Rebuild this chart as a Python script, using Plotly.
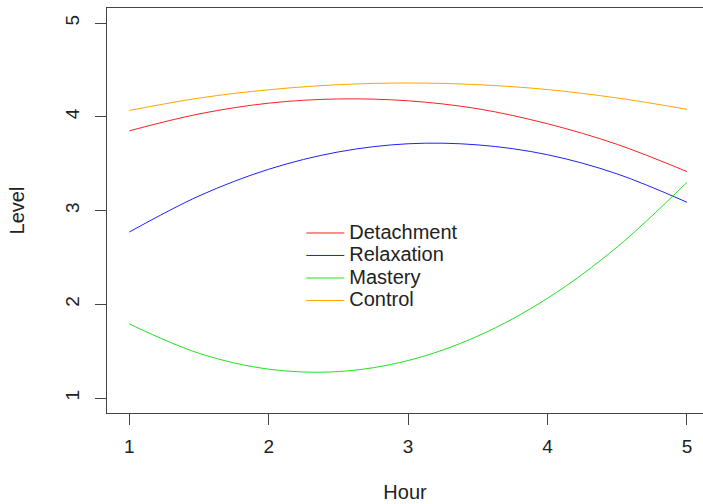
import plotly.graph_objects as go

hours = [1, 1.5, 2, 2.5, 3, 3.5, 4, 4.5, 5]
detachment = [3.85, 4.03, 4.145, 4.19, 4.17, 4.085, 3.925, 3.705, 3.415]
relaxation = [2.77, 3.155, 3.44, 3.625, 3.712, 3.70, 3.595, 3.39, 3.088]
mastery = [1.79, 1.477, 1.308, 1.282, 1.40, 1.661, 2.064, 2.612, 3.30]
control = [4.067, 4.199, 4.288, 4.342, 4.36, 4.342, 4.29, 4.20, 4.08]

series_names = ["Detachment", "Relaxation", "Mastery", "Control"]
series_values = [detachment, relaxation, mastery, control]
series_colors = ["#FF2020", "#2020FF", "#20E020", "#FFA500"]

x_ticks = [1, 2, 3, 4, 5]
y_ticks = [1, 2, 3, 4, 5]

fig = go.Figure()
for name, vals, col in zip(series_names, series_values, series_colors):
    fig.add_trace(go.Scatter(
        x=hours, y=vals, mode="lines",
        name='<span style="font-size:20px">' + name + '</span>',
        line=dict(color=col, width=1, shape="spline", smoothing=1.0),
    ))

font_family = "Liberation Sans, Arial, sans-serif"
axis_color = "#444444"
text_color = "#222222"

fig.update_layout(
    width=703, height=504,
    margin=dict(l=107, r=0, t=8, b=91),
    paper_bgcolor="white", plot_bgcolor="white",
    font=dict(family=font_family, size=19, color=text_color),
    showlegend=True,
    legend=dict(
        x=0.326, y=0.4846, xanchor="left", yanchor="top",
        bgcolor="rgba(0,0,0,0)", borderwidth=0,
        font=dict(size=15, color=text_color, family=font_family),
        itemwidth=38,
    ),
    xaxis=dict(
        range=[0.84, 5.115], tickvals=x_ticks, ticktext=[str(v) for v in x_ticks],
        showgrid=False, zeroline=False,
        showline=True, linecolor=axis_color, linewidth=1, mirror=True,
        ticks="outside", ticklen=11, tickcolor=axis_color, tickwidth=1,
        tickfont=dict(size=19), ticklabelstandoff=5,
        title=dict(text="Hour", font=dict(size=20), standoff=29),
    ),
    yaxis=dict(
        range=[0.84, 5.16], tickvals=y_ticks, ticktext=[str(v) for v in y_ticks],
        showgrid=False, zeroline=False,
        showline=True, linecolor=axis_color, linewidth=1, mirror=False,
        ticks="outside", ticklen=11, tickcolor=axis_color, tickwidth=1,
        tickangle=-90, tickfont=dict(size=19), ticklabelstandoff=8,
        title=dict(text="Level", font=dict(size=20), standoff=32),
    ),
)

fig.write_html("out.html")
